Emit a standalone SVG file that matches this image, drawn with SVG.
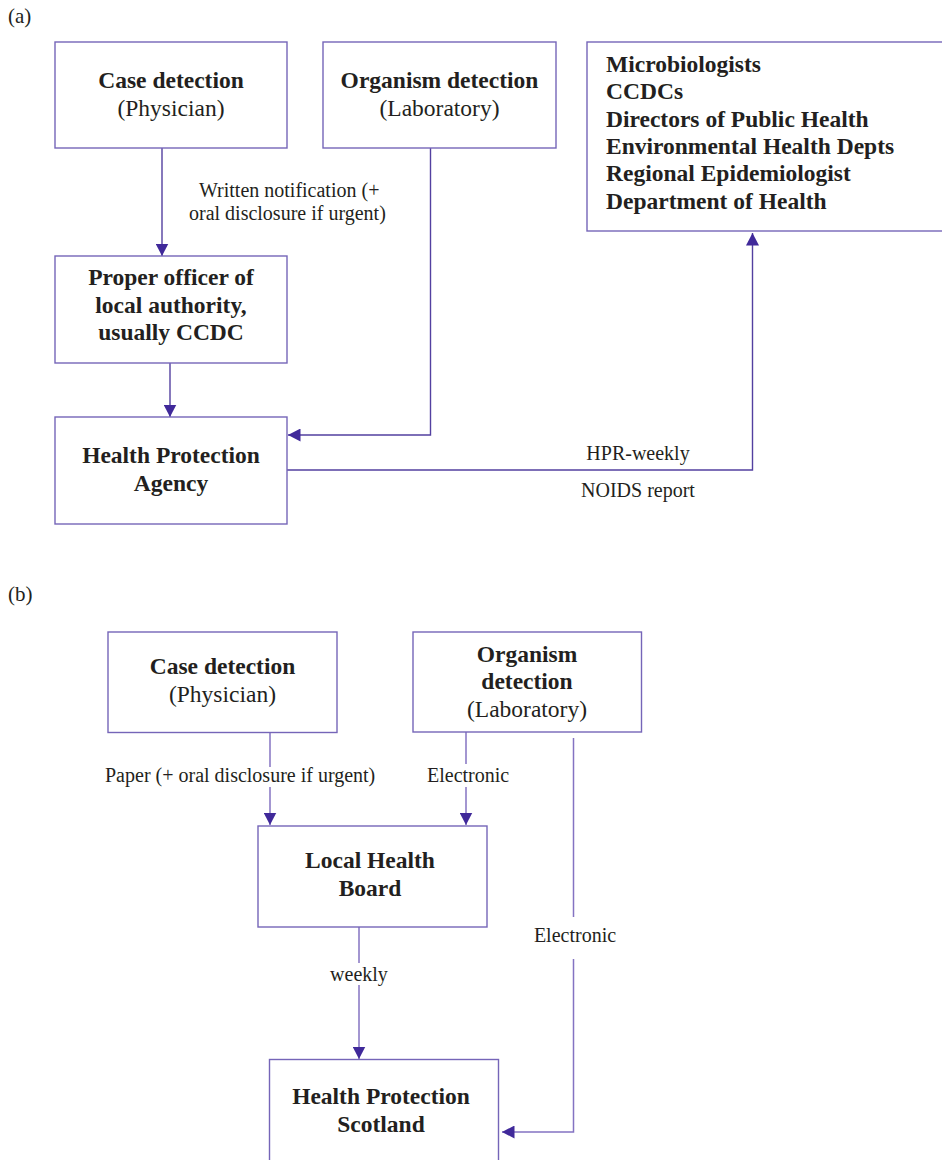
<svg xmlns="http://www.w3.org/2000/svg" width="942" height="1160" viewBox="0 0 942 1160">
<defs>
<style>
text{font-family:"Liberation Serif","Times New Roman",serif;fill:#231f20}
.t{font-size:23.5px;text-anchor:middle}
.b{font-weight:bold}
.tl{font-size:23.5px;font-weight:bold}
.lab{font-size:20px}
.c{text-anchor:middle}
.box{fill:#fff;stroke:#7565b8;stroke-width:1.4}
.ln{fill:none;stroke:#5340a0;stroke-width:1.4}
.lnb{fill:none;stroke:#8473c2;stroke-width:1.5}
</style>
<marker id="ah" markerUnits="userSpaceOnUse" markerWidth="13" markerHeight="13" refX="12.5" refY="6.5" orient="auto" viewBox="0 0 13 13">
<path d="M0,0 L12.5,6.5 L0,13 z" fill="#40299a"/>
</marker>
</defs>
<rect width="942" height="1160" fill="#fff"/>

<text class="lab" x="8" y="23" style="font-size:21px">(a)</text>
<text class="lab" x="8" y="601" style="font-size:21px">(b)</text>

<g id="connectors">
<!-- (a) -->
<path class="ln" d="M162,148 V256" marker-end="url(#ah)"/>
<path class="ln" d="M170,363 V417" marker-end="url(#ah)"/>
<path class="ln" d="M430.5,148 V435 H288" marker-end="url(#ah)"/>
<path class="ln" d="M287,470 H752.5 V233" marker-end="url(#ah)"/>
<text class="lab" x="199" y="197">Written notification (+</text>
<text class="lab" x="189" y="220">oral disclosure if urgent)</text>
<text class="lab c" x="638" y="460">HPR-weekly</text>
<text class="lab c" x="638" y="497">NOIDS report</text>
<!-- (b) -->
<path class="lnb" d="M270,732.5 V767"/>
<path class="lnb" d="M270,787 V825" marker-end="url(#ah)"/>
<path class="lnb" d="M466,732 V764"/>
<path class="lnb" d="M466,787 V825" marker-end="url(#ah)"/>
<path class="lnb" d="M359,927 V963"/>
<path class="lnb" d="M359,985 V1059" marker-end="url(#ah)"/>
<path class="lnb" d="M573.5,738 V917"/>
<path class="lnb" d="M573.5,959 V1132 H502" marker-end="url(#ah)"/>
<text class="lab" x="105" y="782">Paper (+ oral disclosure if urgent)</text>
<text class="lab" x="427" y="782">Electronic</text>
<text class="lab c" x="359" y="981">weekly</text>
<text class="lab c" x="575" y="942">Electronic</text>
</g>

<g id="a-case">
<rect class="box" x="55" y="42" width="232" height="106"/>
<text class="t b" x="171" y="88">Case detection</text>
<text class="t" x="171" y="116">(Physician)</text>
</g>

<g id="a-organism">
<rect class="box" x="323" y="42" width="233" height="106"/>
<text class="t b" x="439.5" y="88">Organism detection</text>
<text class="t" x="439.5" y="116">(Laboratory)</text>
</g>

<g id="a-recipients">
<rect class="box" x="587" y="42" width="370" height="189"/>
<text class="tl" x="606" y="72">Microbiologists</text>
<text class="tl" x="606" y="99.3">CCDCs</text>
<text class="tl" x="606" y="126.6">Directors of Public Health</text>
<text class="tl" x="606" y="153.9">Environmental Health Depts</text>
<text class="tl" x="606" y="181.2">Regional Epidemiologist</text>
<text class="tl" x="606" y="208.5">Department of Health</text>
</g>

<g id="a-proper-officer">
<rect class="box" x="55" y="256" width="232" height="107"/>
<text class="t b" x="171" y="285">Proper officer of</text>
<text class="t b" x="171" y="312.5">local authority,</text>
<text class="t b" x="171" y="340">usually CCDC</text>
</g>

<g id="a-hpa">
<rect class="box" x="55" y="417" width="232" height="107"/>
<text class="t b" x="171" y="463">Health Protection</text>
<text class="t b" x="171" y="491">Agency</text>
</g>

<g id="b-case">
<rect class="box" x="108" y="632" width="229" height="100.5"/>
<text class="t b" x="222.5" y="674">Case detection</text>
<text class="t" x="222.5" y="702">(Physician)</text>
</g>

<g id="b-organism">
<rect class="box" x="413" y="632" width="228.5" height="100"/>
<text class="t b" x="527" y="662">Organism</text>
<text class="t b" x="527" y="689">detection</text>
<text class="t" x="527" y="717">(Laboratory)</text>
</g>

<g id="b-lhb">
<rect class="box" x="258" y="826" width="229" height="101"/>
<text class="t b" x="370" y="868">Local Health</text>
<text class="t b" x="370" y="896">Board</text>
</g>

<g id="b-hps">
<rect class="box" x="269.5" y="1059.5" width="229" height="120"/>
<text class="t b" x="381" y="1104">Health Protection</text>
<text class="t b" x="381" y="1132">Scotland</text>
</g>
</svg>
